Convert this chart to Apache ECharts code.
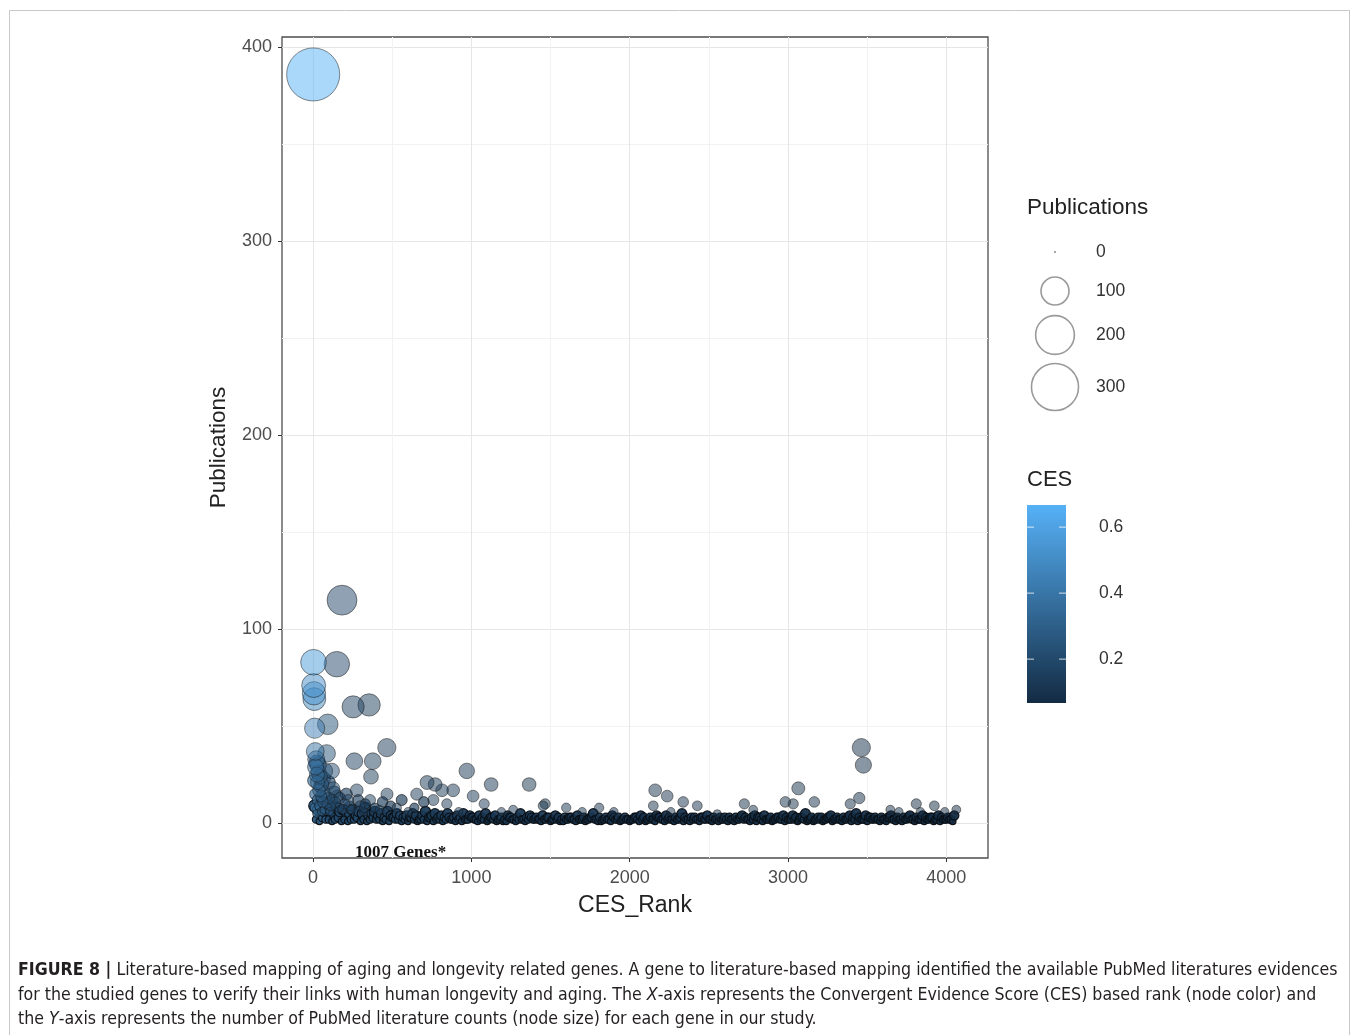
<!DOCTYPE html>
<html><head><meta charset="utf-8">
<script src="https://cdn.jsdelivr.net/npm/echarts@6/dist/echarts.min.js"></script>
<style>html,body{margin:0;padding:0;background:#fff}#c{width:1357px;height:1035px}</style>
</head><body><div id="c"></div>
<script>
// ---------- DATA ----------
// Highlighted genes (rank, publications, CES)
const pointRank = [1,3,4,6,8,10,14,16,20,24,28,33,38,44,50,56,62,68,75,86,93,100,110,118,128,140,150,152,165,183,200,221,240,253,261,276,297,320,354,360,366,377,420,466,467,529,600,655,720,760,771,815,845,885,920,971,1011,1081,1125,1190,1264,1365,1453,1466,1599,1700,1807,1900,2149,2161,2237,2260,2338,2427,2553,2724,2780,2983,3033,3065,3166,3393,3450,3463,3476,3646,3700,3810,3836,3924,3990,4063];
const pointPubs = [386,83,71,67,64,49,37,29,33,25,21,30,17,24,14,20,11,16,27,36,51,13,9,27,18,11,82,14,8,115,10,12,7,60,32,17,9,6,61,12,24,32,7,39,15,8,6,15,21,12,20,17,10,17,6,27,14,10,20,6,7,20,9,10,8,6,8,6,9,17,14,6,11,9,5,10,7,11,10,18,11,10,13,39,30,7,6,10,6,9,6,7];
const pointCES = [0.667,0.56,0.50,0.53,0.47,0.44,0.38,0.36,0.34,0.33,0.32,0.31,0.30,0.29,0.28,0.27,0.27,0.26,0.25,0.24,0.24,0.23,0.22,0.22,0.21,0.20,0.19,0.19,0.19,0.18,0.18,0.17,0.17,0.17,0.16,0.16,0.16,0.16,0.15,0.15,0.15,0.15,0.15,0.14,0.14,0.14,0.14,0.13,0.13,0.13,0.13,0.13,0.13,0.13,0.13,0.12,0.12,0.12,0.12,0.12,0.12,0.11,0.11,0.11,0.11,0.11,0.10,0.10,0.10,0.10,0.10,0.10,0.10,0.10,0.09,0.09,0.09,0.09,0.09,0.09,0.09,0.08,0.08,0.08,0.08,0.08,0.08,0.07,0.07,0.07,0.07,0.067];

// Crowded group of top-ranked genes near the origin
const clusterRank = [11,12,17,22,26,30,35,41,47,53,58,65,72,79,90,97,105,122,135,170,190,210,230,285,330,390,440,490,560,640,700];
const clusterPubs = [22,8,15,5,31,12,26,9,19,6,13,23,7,14,10,21,6,12,16,13,7,15,9,12,10,8,11,9,12,8,11];
const clusterCES = [0.40,0.39,0.36,0.34,0.33,0.32,0.31,0.30,0.29,0.28,0.27,0.26,0.26,0.25,0.24,0.23,0.23,0.22,0.20,0.19,0.18,0.18,0.17,0.16,0.16,0.15,0.15,0.14,0.14,0.14,0.13];

// Dense band of low-publication genes (sampled ranks)
const band1Rank = [10,30,50,70,90,110,130,150,170,190,
210,230,250,270,290,310,330,350,370,390,
410,430,450,470,490,510,530,550,570,590,
610,630,650,670,690,710,730,750,770,790,
810,830,850,870,890,910,930,950,970,990,
1010,1030,1050,1070,1090,1110,1130,1150,1170,1190,
1210,1230,1250,1270,1290,1310,1330,1350,1370,1390,
1410,1430,1450,1470,1490,1510,1530,1550,1570,1590,
1610,1630,1650,1670,1690,1710,1730,1750,1770,1790,
1810,1830,1850,1870,1890,1910,1930,1950,1970,1990,
2010,2030,2050,2070,2090,2110,2130,2150,2170,2190,
2210,2230,2250,2270,2290,2310,2330,2350,2370,2390,
2410,2430,2450,2470,2490,2510,2530,2550,2570,2590,
2610,2630,2650,2670,2690,2710,2730,2750,2770,2790,
2810,2830,2850,2870,2890,2910,2930,2950,2970,2990,
3010,3030,3050,3070,3090,3110,3130,3150,3170,3190,
3210,3230,3250,3270,3290,3310,3330,3350,3370,3390,
3410,3430,3450,3470,3490,3510,3530,3550,3570,3590,
3610,3630,3650,3670,3690,3710,3730,3750,3770,3790,
3810,3830,3850,3870,3890,3910,3930,3950,3970,3990,
4010,4030,4050];
const band1Pubs = [9,7,8,6,10,7,5,8,6,7,
6,5,7,4,6,5,8,4,5,6,
4,5,3,6,4,3,5,4,3,4,
3,5,4,2,4,6,3,4,5,3,
4,3,5,2,3,4,3,5,2,4,
3,2,4,3,5,2,3,4,2,3,
2,4,3,2,3,5,2,3,4,2,
3,2,4,2,3,2,4,3,2,3,
2,3,2,4,2,3,2,3,5,2,
3,2,3,2,4,2,3,2,3,2,
2,3,2,4,3,2,3,2,4,3,
2,4,3,2,3,2,5,3,2,3,
3,2,3,2,4,2,3,2,3,2,
2,3,2,3,2,4,3,2,3,4,
3,2,4,2,3,2,3,2,4,3,
2,4,3,2,3,5,2,3,2,3,
3,2,3,4,2,3,2,3,2,4,
3,5,3,2,4,3,2,3,2,3,
2,3,4,2,3,2,3,2,4,2,
3,2,4,3,2,3,2,4,3,2,
3,2,4];
const band2Rank = [20,40,60,80,100,120,140,160,180,200,
220,240,260,280,300,320,340,360,380,400,
420,440,460,480,500,520,540,560,580,600,
620,640,660,680,700,720,740,760,780,800,
820,840,860,880,900,920,940,960,980,1000,
1020,1040,1060,1080,1100,1120,1140,1160,1180,1200,
1220,1240,1260,1280,1300,1320,1340,1360,1380,1400,
1420,1440,1460,1480,1500,1520,1540,1560,1580,1600,
1620,1640,1660,1680,1700,1720,1740,1760,1780,1800,
1820,1840,1860,1880,1900,1920,1940,1960,1980,2000,
2020,2040,2060,2080,2100,2120,2140,2160,2180,2200,
2220,2240,2260,2280,2300,2320,2340,2360,2380,2400,
2420,2440,2460,2480,2500,2520,2540,2560,2580,2600,
2620,2640,2660,2680,2700,2720,2740,2760,2780,2800,
2820,2840,2860,2880,2900,2920,2940,2960,2980,3000,
3020,3040,3060,3080,3100,3120,3140,3160,3180,3200,
3220,3240,3260,3280,3300,3320,3340,3360,3380,3400,
3420,3440,3460,3480,3500,3520,3540,3560,3580,3600,
3620,3640,3660,3680,3700,3720,3740,3760,3780,3800,
3820,3840,3860,3880,3900,3920,3940,3960,3980,4000,
4020,4040];
const band2Pubs = [2,1,3,2,2,1,2,3,1,2,
1,2,2,3,1,2,1,2,3,2,
2,1,2,1,3,2,2,1,2,1,
3,2,1,2,2,1,3,1,2,2,
1,2,3,2,1,2,1,2,2,3,
2,1,2,2,1,3,2,1,2,1,
1,3,2,1,2,2,1,2,3,2,
2,1,2,3,1,2,2,1,1,2,
3,2,1,2,2,1,2,3,2,1,
1,2,2,1,3,2,1,2,2,1,
2,3,1,2,1,2,2,1,3,2,
1,2,2,1,2,3,1,2,1,2,
2,1,3,2,2,1,2,1,2,3,
1,2,1,2,3,2,2,1,2,1,
3,1,2,2,1,2,3,2,1,2,
2,2,1,3,2,1,2,1,2,2,
1,2,3,1,2,2,1,2,3,1,
2,1,2,2,1,3,2,2,1,2,
1,3,2,1,2,1,2,3,2,1,
2,2,1,2,3,1,2,1,2,2,
2,1];
// CES level of band genes by rank block (upper rank bound of each block)
const cesBlockEnd = [100,300,600,1000,1500,2000,2500,3000,3500,4100];
const cesBlockLevel = [0.26,0.20,0.16,0.14,0.12,0.11,0.10,0.09,0.08,0.07];

const xTicks = [0,1000,2000,3000,4000];
const xMinor = [500,1500,2500,3500];
const yTicks = [0,100,200,300,400];
const yMinor = [50,150,250,350];
const sizeLegendValues = [0,100,200,300];
const cesTicks = [0.2,0.4,0.6];
const cesMin = 0.067, cesMax = 0.667;

// ---------- BUILD ----------
const sz = v => 2 + 2.6 * Math.sqrt(Math.max(v, 0));
const cesFor = r => { for (let i = 0; i < cesBlockEnd.length; i++) if (r < cesBlockEnd[i]) return cesBlockLevel[i]; return cesBlockLevel[cesBlockLevel.length-1]; };

const bandData = [];
band1Rank.forEach((r,i)=>bandData.push([r, band1Pubs[i], cesFor(r)]));
band2Rank.forEach((r,i)=>bandData.push([r, band2Pubs[i], cesFor(r)]));
bandData.sort((a,b)=>a[0]-b[0]);
const clusterData = clusterRank.map((r,i)=>[r, clusterPubs[i], clusterCES[i]]);
const pointData = pointRank.map((r,i)=>[r, pointPubs[i], pointCES[i]]).reverse();

const chart = echarts.init(document.getElementById('c'), null, {renderer:'canvas'});
const FONT = "'Liberation Sans', Arial, sans-serif";
const itemStyle = {opacity:0.5, borderColor:'#1a1a1a', borderWidth:1};

// legend geometry
const legX = 1055, legLabelX = 1096;
const legY = [252,291,335,387];
const barX = 1027, barY = 505, barW = 39, barH = 198;
const graphic = [
  {type:'rect', shape:{x:9.5,y:10.5,width:1340,height:1040}, style:{fill:'none', stroke:'#c8c8c8', lineWidth:1}, silent:true},
  {type:'text', left:1027, top:196, style:{text:'Publications', font:'22.5px '+FONT, fill:'#222'}},
  {type:'text', left:1027, top:469, style:{text:'CES', font:'22px '+FONT, fill:'#222'}},
  {type:'rect', shape:{x:barX,y:barY,width:barW,height:barH}, style:{fill:new echarts.graphic.LinearGradient(0,0,0,1,[{offset:0,color:'#56B1F7'},{offset:1,color:'#132B43'}])}},
  {type:'text', left:355, top:844, style:{text:'1007 Genes*', font:'bold 17px "Liberation Serif", "Times New Roman", serif', fill:'#111'}}
];
sizeLegendValues.forEach((v,i)=>{
  graphic.push({type:'circle', shape:{cx:legX, cy:legY[i], r:sz(v)/2}, style:{fill: v===0 ? '#8a8a8a' : '#fff', stroke: v===0 ? 'none' : '#9a9a9a', lineWidth:1.6}});
  graphic.push({type:'text', x:legLabelX, y:legY[i], style:{text:String(v), font:'17.5px '+FONT, fill:'#333', verticalAlign:'middle'}});
});
cesTicks.forEach(t=>{
  const y = barY + (cesMax - t)/(cesMax - cesMin)*barH;
  graphic.push({type:'line', shape:{x1:barX, y1:y, x2:barX+7, y2:y}, style:{stroke:'rgba(255,255,255,0.8)', lineWidth:1}});
  graphic.push({type:'line', shape:{x1:barX+barW-7, y1:y, x2:barX+barW, y2:y}, style:{stroke:'rgba(255,255,255,0.8)', lineWidth:1}});
  graphic.push({type:'text', x:1099, y:y, style:{text:t.toFixed(1), font:'17.5px '+FONT, fill:'#333', verticalAlign:'middle'}});
});
const CAP = "'Liberation Sans Narrow', 'DejaVu Sans Condensed', sans-serif";
const CAPSIZE = 17.6;
const capRich = {b:{fontWeight:'bold', fontSize:CAPSIZE, fontFamily:CAP, fill:'#231f20'}, i:{fontStyle:'italic', fontSize:CAPSIZE, fontFamily:CAP, fill:'#231f20'}};
const capLines = [
  '{b|FIGURE 8 |} Literature-based mapping of aging and longevity related genes. A gene to literature-based mapping identified the available PubMed literatures evidences',
  'for the studied genes to verify their links with human longevity and aging. The {i|X}-axis represents the Convergent Evidence Score (CES) based rank (node color) and',
  'the {i|Y}-axis represents the number of PubMed literature counts (node size) for each gene in our study.'
];
const capY = [970, 995, 1019];
capLines.forEach((t,i)=>graphic.push({type:'text', x:18, y:capY[i], style:{text:t, rich:capRich, fontSize:CAPSIZE, fontFamily:CAP, fill:'#231f20', verticalAlign:'middle'}}));

const plain = v => String(v);
chart.setOption({
  animation:false,
  backgroundColor:'#fff',
  grid:{left:282, top:37, width:706, height:821, show:true, borderColor:'#4d4d4d', borderWidth:1.3, backgroundColor:'transparent'},
  xAxis:[
    {type:'value', min:-196, max:4263, name:'CES_Rank', nameLocation:'middle', nameGap:36,
      axisLine:{show:false, onZero:false},
      nameTextStyle:{fontSize:23, color:'#222', fontFamily:FONT},
      axisTick:{show:true, length:4, customValues:xTicks, lineStyle:{color:'#333'}},
      axisLabel:{customValues:xTicks, formatter:plain, color:'#4d4d4d', fontSize:18, margin:11, fontFamily:FONT},
      splitLine:{show:true, lineStyle:{color:'#e6e6e6', width:1}}},
    {type:'value', min:-196, max:4263, position:'top', axisLine:{show:false, onZero:false},
      axisTick:{show:false, customValues:xMinor}, axisLabel:{show:false, customValues:xMinor},
      splitLine:{show:true, lineStyle:{color:'#f2f2f2', width:1}}}
  ],
  yAxis:[
    {type:'value', min:-17.9, max:405.3, name:'Publications', nameLocation:'middle', nameGap:52,
      axisLine:{show:false, onZero:false},
      nameTextStyle:{fontSize:22.5, color:'#222', fontFamily:FONT},
      axisTick:{show:true, length:4, customValues:yTicks, lineStyle:{color:'#333'}},
      axisLabel:{customValues:yTicks, formatter:plain, color:'#4d4d4d', fontSize:18, margin:10, fontFamily:FONT},
      splitLine:{show:true, lineStyle:{color:'#e6e6e6', width:1}}},
    {type:'value', min:-17.9, max:405.3, position:'right', axisLine:{show:false, onZero:false},
      axisTick:{show:false, customValues:yMinor}, axisLabel:{show:false, customValues:yMinor},
      splitLine:{show:true, lineStyle:{color:'#f2f2f2', width:1}}}
  ],
  visualMap:{type:'continuous', show:false, dimension:2, min:cesMin, max:cesMax, seriesIndex:[0,1,2],
    inRange:{color:['#132B43','#56B1F7']}},
  series:[
    {type:'scatter', xAxisIndex:0, yAxisIndex:0, data:bandData, symbolSize:v=>sz(v[1])+2, itemStyle:{opacity:0.95, borderColor:'#0a0f14', borderWidth:1.2}, progressive:0, silent:true},
    {type:'scatter', xAxisIndex:0, yAxisIndex:0, data:clusterData, symbolSize:v=>sz(v[1]), itemStyle:{opacity:0.65, borderColor:'#111', borderWidth:1}, progressive:0, silent:true},
    {type:'scatter', xAxisIndex:0, yAxisIndex:0, data:pointData, symbolSize:v=>sz(v[1]), itemStyle:itemStyle, progressive:0, silent:true}
  ],
  graphic:graphic
});
</script></body></html>
